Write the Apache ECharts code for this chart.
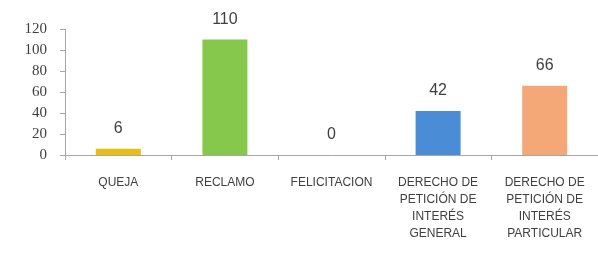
<!DOCTYPE html>
<html>
<head>
<meta charset="utf-8">
<script src="https://cdn.jsdelivr.net/npm/echarts@6/dist/echarts.min.js"></script>
<style>
    html,body{margin:0;padding:0;background:#fff;}
    #myCharts{width:598px;height:259px;}
</style>
</head>
<body>
<div id="myCharts"></div>
<script>
    // categories and values
    const categories = ['QUEJA', 'RECLAMO', 'FELICITACION', 'DERECHO DE\nPETICIÓN DE\nINTERÉS\nGENERAL', 'DERECHO DE\nPETICIÓN DE\nINTERÉS\nPARTICULAR'];
    const values = [6, 110, 0, 42, 66];
    const barColors = ['#E8BE16', '#86C84B', '#A5A5A5', '#4A8CD6', '#F4A878'];
    const yTicks = [0, 20, 40, 60, 80, 100, 120];

    const myCharts = echarts.init(document.getElementById('myCharts'));
    let options = {
        animation: false,
        grid: {
            left: 65,
            right: 0,
            top: 29,
            bottom: 104
        },
        xAxis: {
            type: 'category',
            data: categories,
            axisLine: {lineStyle: {color: '#a6a6a6'}},
            axisTick: {show: true, length: 5, lineStyle: {color: '#a6a6a6'}},
            axisLabel: {
                interval: 0,
                color: '#404040',
                fontFamily: 'Liberation Sans, sans-serif',
                fontSize: 12,
                lineHeight: 17,
                margin: 19
            }
        },
        yAxis: {
            type: 'value',
            min: yTicks[0],
            max: yTicks[yTicks.length - 1],
            interval: 20,
            splitLine: {show: false},
            axisLine: {show: true, lineStyle: {color: '#a6a6a6'}},
            axisTick: {show: true, length: 5, lineStyle: {color: '#a6a6a6'}},
            axisLabel: {
                color: '#404040',
                fontFamily: 'Liberation Serif, serif',
                fontSize: 15,
                margin: 18
            }
        },
        series: [{
            type: 'bar',
            barWidth: 45,
            data: values.map((v, i) => ({value: v, itemStyle: {color: barColors[i]}})),
            label: {
                show: true,
                position: 'top',
                distance: 12,
                color: '#404040',
                fontFamily: 'Liberation Sans, sans-serif',
                fontSize: 16
            }
        }]
    };
    myCharts.setOption(options);
</script>
</body>
</html>
